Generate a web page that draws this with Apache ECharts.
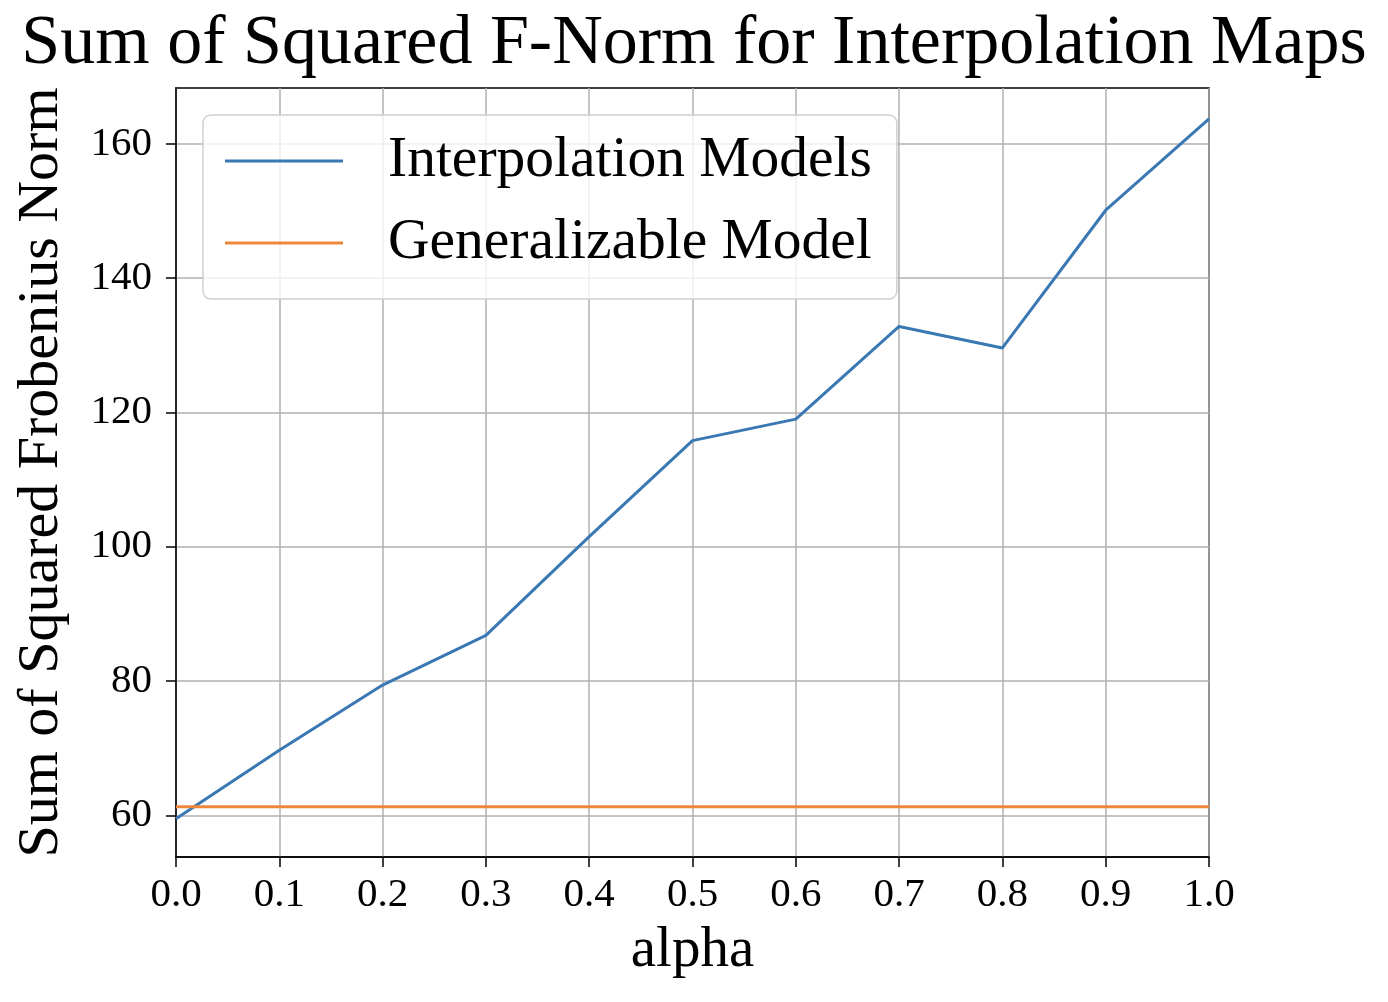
<!DOCTYPE html>
<meta charset="utf-8">
<style>
html, body { margin: 0; padding: 0; background: #fff; }
#main { width: 1388px; height: 1002px; }
</style>
<div id="main"></div>
<script src="https://cdn.jsdelivr.net/npm/echarts@6/dist/echarts.min.js"></script>
<script>

var alphas = [0.0, 0.1, 0.2, 0.3, 0.4, 0.5, 0.6, 0.7, 0.8, 0.9, 1.0];
var interpValues = [59.5, 69.7, 79.4, 86.8, 101.5, 115.8, 119.0, 132.8, 129.6, 150.1, 163.7];
var generalValue = 61.3;
var yTicks = [60, 80, 100, 120, 140, 160];
var seriesNames = ['Interpolation Models', 'Generalizable Model'];

var font = 'Liberation Serif, Times New Roman, serif';

var chart = echarts.init(document.getElementById('main'));

chart.setOption({
    animation: false,
    backgroundColor: '#fff',
    title: {
        text: 'Sum of Squared F-Norm for Interpolation Maps',
        left: 'center',
        top: 5,
        textStyle: { fontFamily: font, fontSize: 70, fontWeight: 'normal', color: '#000' }
    },
    legend: {
        data: seriesNames,
        orient: 'vertical',
        left: 203,
        top: 115,
        padding: [17, 25, 27, 22],
        itemGap: 24,
        itemWidth: 118,
        itemHeight: 3,
        icon: 'rect',
        backgroundColor: 'rgba(255,255,255,0.8)',
        borderColor: '#d0d0d0',
        borderWidth: 1.5,
        borderRadius: 8,
        textStyle: { fontFamily: font, fontSize: 57.5, color: '#000', padding: [0, 0, 0, 40] }
    },
    grid: {
        left: 176,
        right: 179,
        top: 88,
        bottom: 145,
        show: true,
        borderColor: '#000',
        borderWidth: 1.5
    },
    xAxis: {
        type: 'value',
        min: 0,
        max: 1,
        interval: 0.1,
        name: 'alpha',
        nameLocation: 'middle',
        nameGap: 66,
        nameTextStyle: { fontFamily: font, fontSize: 57, color: '#000' },
        axisLine: { lineStyle: { color: '#000', width: 1.5 } },
        axisTick: { show: true, length: 10, lineStyle: { color: '#000', width: 1.5 } },
        axisLabel: {
            fontFamily: font, fontSize: 41, color: '#000', margin: 18,
            formatter: function (v) { return v.toFixed(1); }
        },
        splitLine: { show: true, lineStyle: { color: '#b0b0b0', width: 1.5 } }
    },
    yAxis: {
        type: 'value',
        min: 53.8,
        max: 168.3,
        name: 'Sum of Squared Frobenius Norm',
        nameLocation: 'middle',
        nameGap: 105,
        nameTextStyle: { fontFamily: font, fontSize: 58, color: '#000' },
        axisLine: { show: true, lineStyle: { color: '#000', width: 1.5 } },
        axisTick: { show: true, length: 10, customValues: yTicks, lineStyle: { color: '#000', width: 1.5 } },
        axisLabel: {
            fontFamily: font, fontSize: 41, color: '#000', margin: 24,
            customValues: yTicks
        },
        splitLine: { show: true, lineStyle: { color: '#b0b0b0', width: 1.5 } }
    },
    series: [
        {
            name: seriesNames[0],
            type: 'line',
            symbol: 'none',
            data: alphas.map(function (a, i) { return [a, interpValues[i]]; }),
            itemStyle: { color: '#3a78b4' },
            lineStyle: { color: '#3a78b4', width: 3 }
        },
        {
            name: seriesNames[1],
            type: 'line',
            symbol: 'none',
            data: alphas.map(function (a) { return [a, generalValue]; }),
            itemStyle: { color: '#f0883a' },
            lineStyle: { color: '#f0883a', width: 3 }
        }
    ]
});

</script>
